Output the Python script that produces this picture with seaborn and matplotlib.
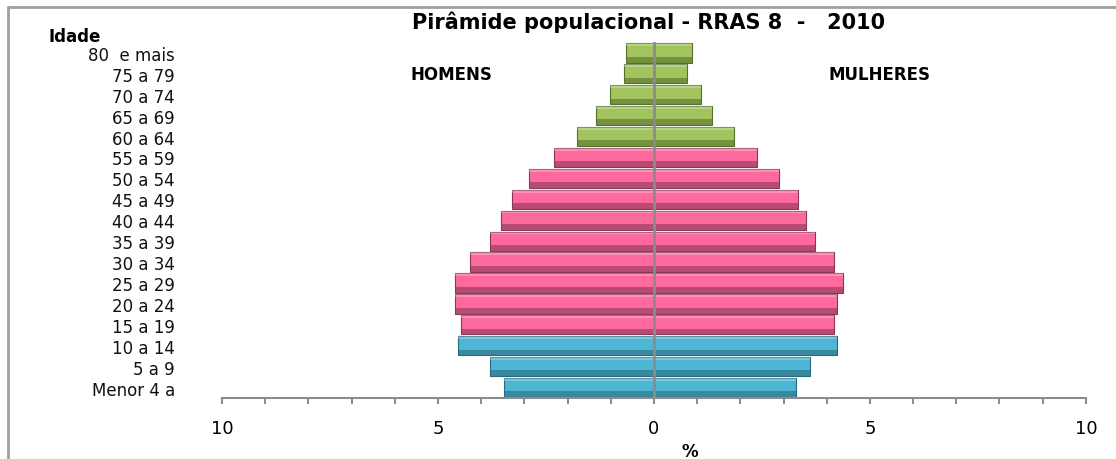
import matplotlib
matplotlib.use('Agg')
import numpy as np
import pandas as pd
import seaborn as sns
from matplotlib import pyplot as plt
from matplotlib.lines import Line2D
from matplotlib.patches import Rectangle

idade = ['80  e mais', '75 a 79', '70 a 74', '65 a 69', '60 a 64', '55 a 59', '50 a 54',
         '45 a 49', '40 a 44', '35 a 39', '30 a 34', '25 a 29', '20 a 24', '15 a 19',
         '10 a 14', '5 a 9', 'Menor 4 a']
homens = [0.65, 0.69, 1.02, 1.34, 1.78, 2.31, 2.89, 3.29, 3.54, 3.80, 4.26, 4.61, 4.61,
          4.47, 4.54, 3.80, 3.47]
mulheres = [0.89, 0.76, 1.09, 1.34, 1.85, 2.38, 2.89, 3.33, 3.52, 3.73, 4.17, 4.38, 4.24,
            4.17, 4.24, 3.61, 3.29]
faixa = ['idoso'] * 5 + ['adulto'] * 9 + ['jovem'] * 3
x_ticks = list(range(-10, 11))
x_labels = ['10', '', '', '', '', '5', '', '', '', '', '0', '', '', '', '', '5', '', '', '', '', '10']

cores = {'jovem': '#4DB6D4', 'adulto': '#FF6A9E', 'idoso': '#A2C45E'}
escuras = {'jovem': '#2A6A7C', 'adulto': '#8A3757', 'idoso': '#56702C'}

df = pd.DataFrame({'idade': idade, 'homens': -np.array(homens), 'mulheres': mulheres,
                   'faixa': faixa})

sns.set_theme(style='white')
plt.rcParams['font.family'] = ['DejaVu Sans']
plt.rcParams['text.color'] = 'black'

fig = plt.figure(figsize=(11.16, 4.6), dpi=100)
ax = fig.add_axes([0.199, 0.1326, 0.774, 0.773])

pal = [cores[f] for f in faixa]
for col in ['homens', 'mulheres']:
    sns.barplot(data=df, x=col, y='idade', hue='idade', palette=pal, orient='h',
                width=0.92, legend=False, saturation=1, ax=ax)

# efeito de relevo nas barras
for p in list(ax.patches):
    i = int(round(p.get_y() + p.get_height() / 2))
    f = faixa[i]
    p.set_edgecolor(escuras[f])
    p.set_linewidth(0.8)
    x0, y0, w, h = p.get_x(), p.get_y(), p.get_width(), p.get_height()
    ax.add_patch(Rectangle((x0, y0 + h * 0.70), w, h * 0.30, color=escuras[f],
                           alpha=0.6, lw=0))
    ax.add_patch(Rectangle((x0, y0), w, h * 0.15, color='white', alpha=0.25, lw=0))

ax.axvline(0, color='#8c8c8c', lw=2)

ax.set_xlim(-10, 10)
ax.set_ylim(16.5, -0.5)
ax.set_xticks(x_ticks)
ax.set_xticklabels(x_labels)
ax.tick_params(axis='x', direction='out', length=4, width=1.5, color='#8c8c8c',
               labelsize=13, labelcolor='black', pad=11, bottom=True)
ax.tick_params(axis='y', length=0, pad=34, labelsize=12, labelcolor='#111111')
for s in ['top', 'right', 'left']:
    ax.spines[s].set_visible(False)
ax.spines['bottom'].set_color('#8c8c8c')
ax.spines['bottom'].set_linewidth(1.5)

ax.set_ylabel('')
ax.set_xlabel('%', fontweight='bold', fontsize=12, color='black')
ax.xaxis.set_label_coords(0.542, -0.125)

ax.text(-4.7, 1, 'HOMENS', fontweight='bold', fontsize=12, ha='center', va='center')
ax.text(5.23, 1, 'MULHERES', fontweight='bold', fontsize=12, ha='center', va='center')

fig.text(0.581, 1 - 22 / 460, 'Pirâmide populacional - RRAS 8  -   2010', fontweight='bold',
         fontsize=15, ha='center', va='center')
fig.text(48 / 1116, 1 - 37 / 460, 'Idade', fontweight='bold', fontsize=12, ha='left',
         va='center')

# moldura do grafico
fig.add_artist(Line2D([8 / 1116, 1], [1 - 8 / 460, 1 - 8 / 460], color='#a0a0a0', lw=2))
fig.add_artist(Line2D([8 / 1116, 8 / 1116], [0, 1 - 8 / 460], color='#a0a0a0', lw=2))

fig.savefig('out.png', dpi=100)
